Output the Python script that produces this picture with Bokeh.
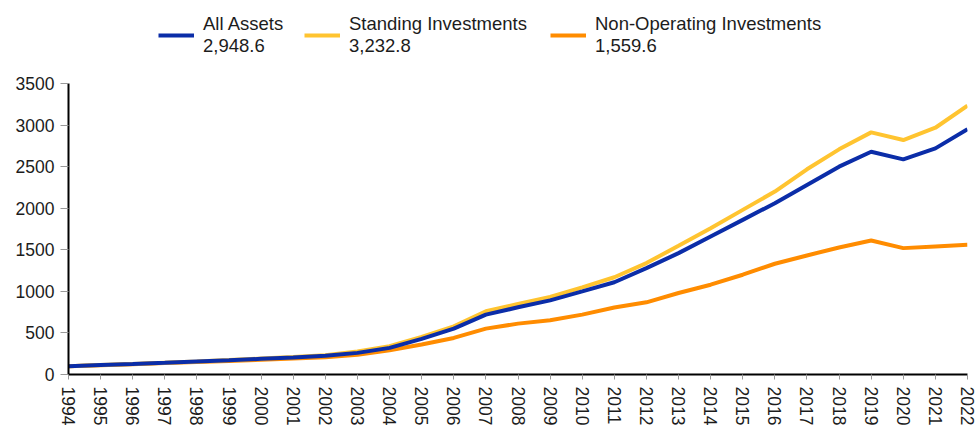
from bokeh.plotting import figure
from bokeh.models import ColumnDataSource, FixedTicker, Legend, LegendItem, Range1d
from bokeh.layouts import column
from bokeh.embed import file_html
from bokeh.resources import INLINE

years = list(range(1994, 2023))
all_assets = [100, 113, 126, 140, 155, 170, 188, 205, 225, 260, 320, 428, 552, 720, 808, 892,
              1000, 1110, 1280, 1460, 1660, 1860, 2060, 2280, 2500, 2679, 2588, 2720, 2948.6]
standing = [100, 114, 127, 142, 157, 173, 192, 210, 232, 276, 340, 452, 580, 760, 848, 932,
            1048, 1170, 1340, 1548, 1760, 1980, 2200, 2468, 2708, 2912, 2820, 2968, 3232.8]
non_operating = [100, 112, 124, 137, 150, 163, 178, 192, 208, 236, 292, 360, 440, 552, 612, 652,
                 720, 805, 868, 980, 1080, 1200, 1332, 1432, 1528, 1612, 1520, 1540, 1559.6]
series_names = ["All Assets", "Standing Investments", "Non-Operating Investments"]
latest_labels = ["2,948.6", "3,232.8", "1,559.6"]
y_ticks = [0, 500, 1000, 1500, 2000, 2500, 3000, 3500]

colors = ["#0B2DA8", "#FFC430", "#FF8C00"]
FONT = "Liberation Sans"
TXT = "#1c1c1c"
TOP_H = 75

src = ColumnDataSource(dict(year=years, a=all_assets, s=standing, n=non_operating))

p = figure(width=976, height=428 - TOP_H, output_backend="svg", toolbar_location=None,
           x_range=Range1d(1994, 2022), y_range=Range1d(0, 3500),
           min_border_left=68, min_border_right=9, min_border_top=83 - TOP_H,
           min_border_bottom=53)
p.outline_line_color = None
p.xgrid.visible = False
p.ygrid.visible = False

p.line("year", "n", source=src, line_color=colors[2], line_width=4)
p.line("year", "s", source=src, line_color=colors[1], line_width=4)
p.line("year", "a", source=src, line_color=colors[0], line_width=4)

for ax in (p.xaxis[0], p.yaxis[0]):
    ax.axis_line_color = "black"
    ax.axis_line_width = 2
    ax.major_tick_line_color = "#999999"
    ax.major_tick_line_width = 1
    ax.major_tick_in = 0
    ax.minor_tick_line_color = None
    ax.major_label_text_font = FONT
    ax.major_label_text_font_size = "17.5px"
    ax.major_label_text_color = TXT

p.xaxis.ticker = FixedTicker(ticks=years)
p.xaxis.major_tick_out = 5
p.xaxis.major_label_standoff = 7
p.xaxis.major_label_orientation = "vertical"
p.yaxis.ticker = FixedTicker(ticks=y_ticks)
p.yaxis.major_tick_out = 8
p.yaxis.major_label_standoff = 6

# legend strip above the chart (its frame is aligned with the chart frame by the column)
lg = figure(width=976, height=TOP_H, output_backend="svg", toolbar_location=None,
            x_range=Range1d(0, 1), y_range=Range1d(0, 1),
            min_border_left=68, min_border_right=9, min_border_top=0, min_border_bottom=0)
lg.axis.visible = False
lg.xgrid.visible = False
lg.ygrid.visible = False
lg.outline_line_color = None

series_vals = [all_assets, standing, non_operating]
leg_x = [90, 236, 482]
for i in range(3):
    # same series drawn in the legend strip, far outside its 0..1 ranges (only its legend glyph shows)
    r = lg.line(x=years, y=series_vals[i], line_color=colors[i], line_width=4)
    leg = Legend(items=[LegendItem(label=series_names[i] + "\n" + latest_labels[i],
                                   renderers=[r])],
                 location=(leg_x[i], 18), orientation="horizontal",
                 padding=0, margin=0, border_line_color=None, background_fill_alpha=0,
                 glyph_width=36, glyph_height=20, label_standoff=9,
                 label_text_font=FONT, label_text_font_size="18.5px",
                 label_text_color=TXT, label_text_line_height=1.08)
    lg.add_layout(leg, "center")

layout = column(lg, p, spacing=0)
open("out.html", "w").write(file_html(layout, INLINE))
